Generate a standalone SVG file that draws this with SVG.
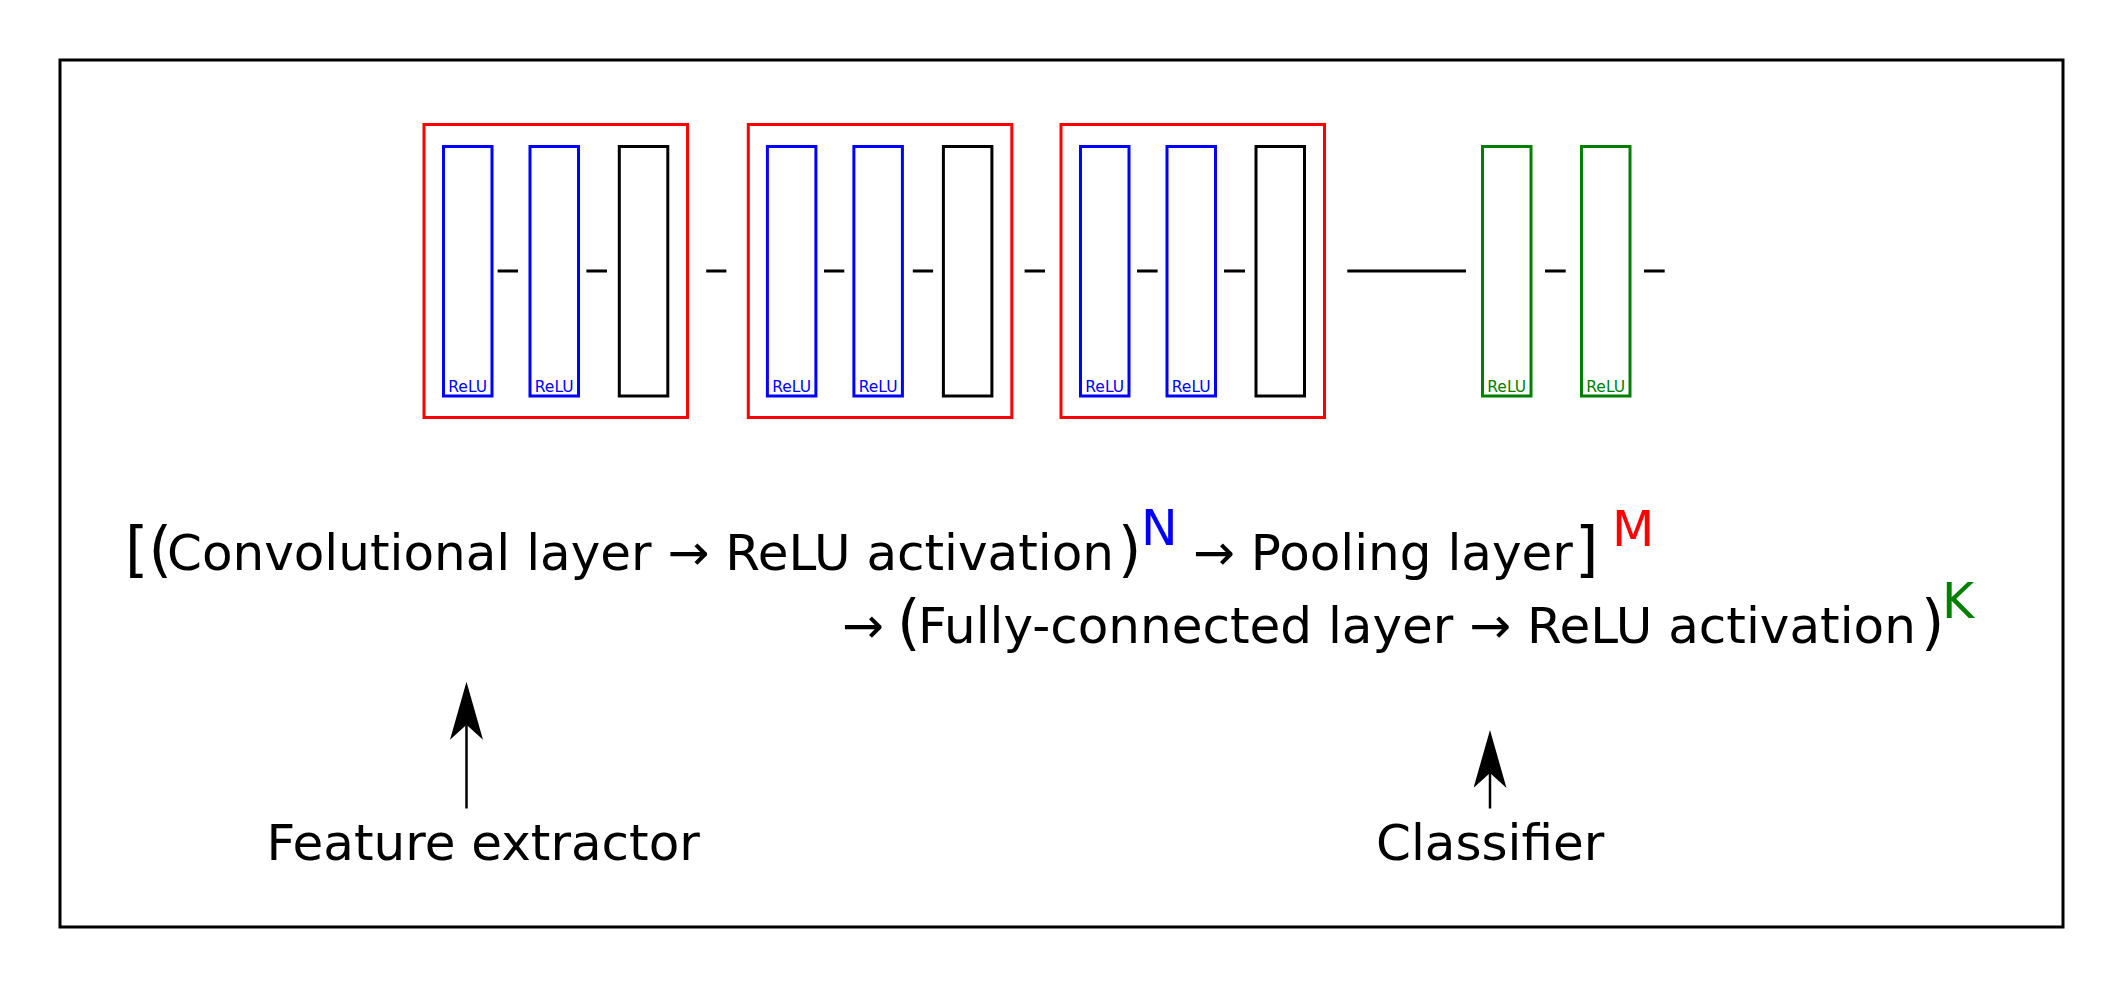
<svg xmlns="http://www.w3.org/2000/svg" width="2124" height="989" viewBox="0 0 2124 989">
<style>
text{font-family:"DejaVu Sans","Liberation Sans",sans-serif;}
.box{fill:none;stroke-width:3;}
.red{stroke:#ff0000;}
.blue{stroke:#0000ff;}
.black{stroke:#000000;}
.green{stroke:#008000;}
.dash{stroke:#000;stroke-width:3;}
.relu{font-size:15.5px;text-anchor:middle;}
.t50{font-size:50px;fill:#000;}
.t60{font-size:60px;fill:#000;}
.sup{font-size:49px;}
.conn{stroke:#000;stroke-width:2.5;fill:none;marker-end:url(#head);}
</style>
<defs>
<marker id="head" markerUnits="userSpaceOnUse" markerWidth="58" markerHeight="33" viewBox="0 0 58 33" refX="15" refY="16.5" orient="auto">
<path d="M58,16.5 L0,0 L15,16.5 L0,33 Z" fill="#000"/>
</marker>
</defs>
<rect width="2124" height="989" fill="#fff"/>
<rect id="frame" x="60" y="60" width="2003" height="867" fill="none" stroke="#000" stroke-width="3"/>

<g id="block1">
<rect class="box red" x="424" y="124.5" width="263.5" height="293"/>
<g id="b1conv1"><rect class="box blue" x="443.5" y="146.5" width="48.5" height="249.5"/><text class="relu" x="467.7" y="392" fill="#0000ff">ReLU</text></g>
<g id="b1conv2"><rect class="box blue" x="530" y="146.5" width="48.5" height="249.5"/><text class="relu" x="554.2" y="392" fill="#0000ff">ReLU</text></g>
<g id="b1pool"><rect class="box black" x="619.3" y="146.5" width="48.5" height="249.5"/></g>
</g>

<g id="block2">
<rect class="box red" x="748.3" y="124.5" width="263.5" height="293"/>
<g id="b2conv1"><rect class="box blue" x="767.4" y="146.5" width="48.5" height="249.5"/><text class="relu" x="791.6" y="392" fill="#0000ff">ReLU</text></g>
<g id="b2conv2"><rect class="box blue" x="853.9" y="146.5" width="48.5" height="249.5"/><text class="relu" x="878.1" y="392" fill="#0000ff">ReLU</text></g>
<g id="b2pool"><rect class="box black" x="943.4" y="146.5" width="48.5" height="249.5"/></g>
</g>

<g id="block3">
<rect class="box red" x="1061" y="124.5" width="263.5" height="293"/>
<g id="b3conv1"><rect class="box blue" x="1080.5" y="146.5" width="48.5" height="249.5"/><text class="relu" x="1104.7" y="392" fill="#0000ff">ReLU</text></g>
<g id="b3conv2"><rect class="box blue" x="1167" y="146.5" width="48.5" height="249.5"/><text class="relu" x="1191.2" y="392" fill="#0000ff">ReLU</text></g>
<g id="b3pool"><rect class="box black" x="1256" y="146.5" width="48.5" height="249.5"/></g>
</g>

<g id="fc1"><rect class="box green" x="1482.5" y="146.5" width="48.5" height="249.5"/><text class="relu" x="1506.7" y="392" fill="#008000">ReLU</text></g>
<g id="fc2"><rect class="box green" x="1581.5" y="146.5" width="48.5" height="249.5"/><text class="relu" x="1605.7" y="392" fill="#008000">ReLU</text></g>

<g id="connectors">
<line class="dash" x1="497.6" y1="271" x2="518" y2="271"/>
<line class="dash" x1="586.4" y1="271" x2="607" y2="271"/>
<line class="dash" x1="706.2" y1="271" x2="726.4" y2="271"/>
<line class="dash" x1="824" y1="271" x2="844.3" y2="271"/>
<line class="dash" x1="912.8" y1="271" x2="933.1" y2="271"/>
<line class="dash" x1="1024.6" y1="271" x2="1045" y2="271"/>
<line class="dash" x1="1137" y1="271" x2="1157.6" y2="271"/>
<line class="dash" x1="1224" y1="271" x2="1245" y2="271"/>
<line class="dash" x1="1347.3" y1="271" x2="1466" y2="271"/>
<line class="dash" x1="1545" y1="271" x2="1565.7" y2="271"/>
<line class="dash" x1="1644" y1="271" x2="1664.7" y2="271"/>
<line class="conn" x1="466.5" y1="808.5" x2="466.5" y2="724.7"/>
<line class="conn" x1="1490" y1="808.5" x2="1490" y2="773"/>
</g>

<g id="formula">
<text class="t60" x="125" y="570">[(</text>
<text class="t50" x="167" y="570">Convolutional layer → ReLU activation</text>
<text class="t60" x="1118" y="570">)</text>
<text class="sup" x="1141" y="545" fill="#0000ff" font-size="48">N</text>
<text class="t50" x="1193" y="570">→ Pooling layer</text>
<text class="t60" x="1575" y="570">]</text>
<text class="sup" x="1612" y="546" fill="#ff0000">M</text>
<text class="t50" x="842" y="643">→</text>
<text class="t60" x="897" y="643">(</text>
<text class="t50" x="918" y="643">Fully-connected layer → ReLU activation</text>
<text class="t60" x="1921" y="643">)</text>
<text class="sup" x="1942" y="618" fill="#008000">K</text>
</g>

<g id="feature-extractor"><text class="t50" x="266.5" y="860">Feature extractor</text></g>
<g id="classifier"><text class="t50" x="1376" y="860">Classifier</text></g>
</svg>
